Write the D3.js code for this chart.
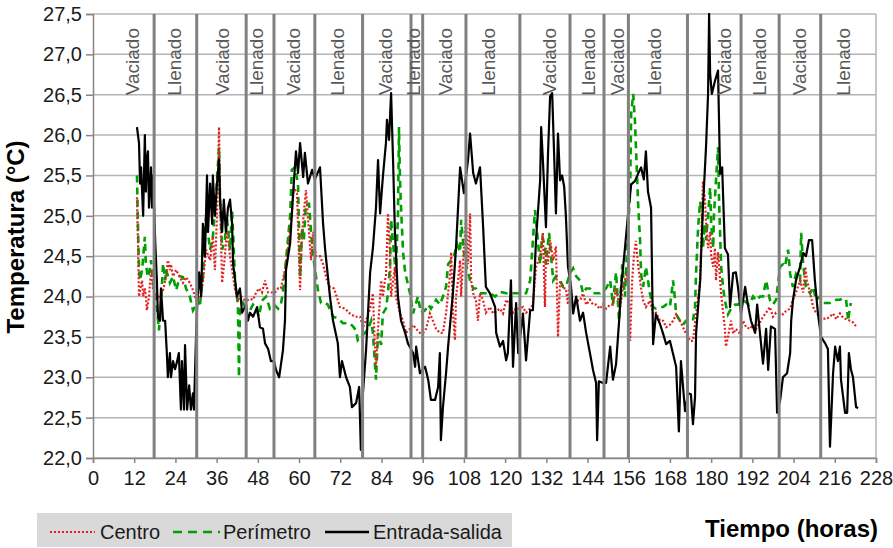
<!DOCTYPE html>
<html><head><meta charset="utf-8">
<script src="https://cdn.jsdelivr.net/npm/d3@7"></script>
<style>body{margin:0;background:#fff;}svg{display:block;font-family:"Liberation Sans",Arial,sans-serif;}</style>
</head><body>
<svg id="chart" width="893" height="548"></svg>
<script>
const xTicks = [0,12,24,36,48,60,72,84,96,108,120,132,144,156,168,180,192,204,216,228];
const yTicks = [22,22.5,23,23.5,24,24.5,25,25.5,26,26.5,27,27.5];
const phaseBounds = [17.8,30.2,44.6,52.7,64.6,78.5,92.6,96.0,108.6,124.3,138.9,148.8,155.9,173.1,188.7,199.8,211.9];
const phaseLabelHours = [11.3,23.6,37.6,47.4,58.3,71.0,85.0,93.3,102.5,115.1,132.9,144.2,152.5,163.3,183.7,194.0,205.6,218.5];
const phaseLabelTexts = ["Vaciado","Llenado","Vaciado","Llenado","Vaciado","Llenado","Vaciado","Llenado","Vaciado","Llenado","Vaciado","Llenado","Vaciado","Llenado","Vaciado","Llenado","Vaciado","Llenado"];
const seriesNames = ["Centro","Perímetro","Entrada-salida"];

const centro = [[12.8,25.23],[13.1,24.66],[13.4,24.0],[13.7,24.08],[14.3,24.2],[14.6,24.0],[15.1,24.1],[15.4,24.0],[15.7,23.83],[16.3,24.0],[16.9,24.33],[17.5,24.08],[18.3,24.0],[19.2,24.0],[20.4,24.08],[21.3,24.25],[21.8,24.45],[22.4,24.33],[22.7,24.4],[23.3,24.25],[24.2,24.33],[25.3,24.24],[26.2,24.17],[27.1,24.24],[28.2,24.17],[29.1,24.08],[30.0,23.96],[31.2,24.0],[32.0,24.17],[32.9,24.58],[34.1,24.45],[34.9,24.74],[35.5,24.33],[36.1,25.0],[36.7,26.1],[37.0,25.2],[37.6,24.17],[38.4,24.5],[39.0,24.83],[39.9,24.5],[40.5,24.33],[41.4,24.08],[42.2,23.96],[43.1,24.0],[44.0,23.96],[44.8,23.95],[45.7,23.97],[46.6,23.96],[47.5,24.05],[48.3,24.1],[49.2,24.05],[50.1,24.2],[51.0,24.05],[52.1,24.05],[53.0,24.05],[53.9,24.1],[54.7,24.1],[55.9,24.33],[56.8,24.6],[57.7,24.95],[58.5,25.35],[59.4,25.28],[60.3,24.08],[60.9,24.8],[62.0,25.32],[62.9,24.8],[63.5,24.45],[64.1,24.8],[64.9,24.5],[66.1,24.5],[67.0,24.4],[68.1,24.2],[69.0,24.12],[70.2,24.1],[71.9,23.87],[73.4,23.85],[74.8,23.79],[76.3,23.75],[77.8,23.75],[78.6,23.62],[79.5,23.7],[80.7,23.85],[81.5,24.04],[82.0,23.46],[82.4,23.13],[83.0,23.6],[83.6,24.0],[83.9,24.2],[84.4,24.0],[85.0,24.2],[85.3,24.25],[85.9,25.03],[86.5,24.5],[86.8,24.0],[87.4,24.2],[87.9,24.37],[88.2,24.0],[88.8,23.9],[89.4,23.79],[90.3,23.7],[91.1,23.55],[92.3,23.6],[93.2,23.65],[94.1,23.6],[95.2,23.55],[96.1,23.55],[97.0,23.6],[98.1,23.79],[99.0,23.7],[99.9,23.6],[101.0,23.55],[101.9,23.55],[102.8,23.79],[103.4,24.04],[104.0,24.29],[104.3,24.55],[104.8,23.8],[105.4,23.46],[105.7,24.0],[106.3,24.2],[106.9,24.45],[107.2,24.0],[107.7,24.4],[108.6,24.95],[109.2,24.4],[109.8,25.03],[110.1,24.2],[110.7,24.04],[111.5,23.95],[112.1,23.7],[112.7,24.04],[113.6,23.95],[114.4,23.8],[115.6,23.87],[116.5,23.79],[118.5,23.85],[119.4,23.79],[120.3,23.96],[121.4,23.9],[122.3,23.8],[123.2,23.85],[124.3,23.85],[125.2,23.87],[126.1,23.8],[127.3,23.85],[128.1,23.9],[129.0,24.37],[130.2,24.5],[131.0,24.79],[131.6,23.87],[131.9,24.6],[132.5,24.4],[133.1,24.7],[134.0,24.45],[134.8,24.62],[135.4,23.5],[136.0,24.2],[136.9,24.1],[137.7,24.1],[138.3,23.9],[138.9,24.2],[139.8,23.83],[140.7,23.95],[141.8,23.95],[142.7,24.04],[143.6,23.9],[144.7,23.96],[145.6,23.9],[146.5,23.9],[147.6,23.85],[148.5,23.9],[149.4,23.85],[150.6,23.9],[151.4,23.9],[152.3,24.1],[153.5,23.85],[154.4,24.15],[154.9,24.2],[155.5,24.3],[156.1,23.9],[156.4,23.45],[157.0,24.2],[157.5,24.5],[158.1,24.69],[158.7,24.4],[159.6,24.1],[160.2,23.95],[161.0,23.87],[162.2,23.95],[163.1,23.78],[163.9,23.8],[165.1,23.7],[166.0,23.7],[166.9,23.62],[168.0,23.65],[168.9,23.7],[169.8,23.78],[170.9,23.7],[171.8,23.62],[172.7,23.54],[173.9,23.45],[174.7,23.45],[175.6,23.78],[176.8,24.2],[177.6,25.43],[178.2,25.2],[178.5,24.93],[179.1,24.6],[179.7,24.8],[180.0,24.5],[180.6,24.37],[181.1,24.6],[181.4,24.2],[182.0,24.55],[182.9,24.03],[183.5,23.8],[184.0,23.6],[184.3,23.38],[184.9,23.5],[185.8,23.7],[186.4,23.54],[187.2,23.6],[188.4,23.54],[189.3,23.7],[190.2,23.62],[191.3,23.6],[192.2,23.65],[193.1,23.6],[194.2,23.68],[195.1,23.75],[196.0,23.8],[197.1,23.87],[198.0,23.75],[198.9,23.8],[200.1,23.8],[200.9,23.78],[201.8,23.82],[203.0,23.85],[203.8,23.96],[204.7,24.05],[205.9,24.2],[206.8,24.05],[207.4,24.37],[207.9,24.2],[208.8,24.05],[209.7,23.87],[210.5,23.8],[211.7,23.75],[212.6,23.73],[213.5,23.72],[214.6,23.75],[215.5,23.79],[216.4,23.72],[217.5,23.79],[218.4,23.74],[219.3,23.72],[220.4,23.7],[221.3,23.68],[222.2,23.63]];

const perimetro = [[12.8,25.5],[13.1,24.86],[13.4,24.33],[13.7,24.2],[14.3,24.33],[15.1,24.74],[15.4,24.4],[16.0,24.24],[16.6,24.35],[16.9,24.45],[17.5,24.17],[18.3,24.0],[19.2,23.58],[19.8,23.9],[20.4,24.41],[21.0,24.2],[21.3,24.33],[22.4,24.17],[23.3,24.25],[24.2,24.08],[25.3,24.25],[26.2,24.24],[27.1,24.1],[28.2,24.0],[29.1,23.83],[30.0,23.9],[31.2,23.92],[32.0,24.24],[32.9,24.98],[34.1,24.58],[34.9,24.74],[35.5,25.07],[36.1,25.44],[36.7,25.85],[37.0,25.2],[37.6,24.58],[38.4,24.7],[39.0,24.98],[39.9,24.58],[40.5,25.07],[41.4,24.17],[41.9,24.0],[42.2,23.9],[42.5,23.0],[42.8,23.83],[43.7,23.92],[44.6,23.85],[45.7,23.83],[46.6,23.9],[47.5,23.85],[48.3,23.75],[49.2,23.95],[50.4,24.0],[51.5,23.85],[52.7,23.9],[53.9,23.85],[54.7,23.9],[55.3,24.05],[56.2,24.45],[57.4,25.0],[57.9,25.57],[58.8,25.6],[59.7,25.4],[60.3,24.24],[60.9,24.86],[61.4,24.7],[62.0,25.15],[62.9,25.15],[63.5,24.8],[64.1,24.5],[65.5,24.08],[66.4,23.92],[67.6,23.92],[68.4,23.9],[69.9,23.75],[71.3,23.73],[72.8,23.67],[74.8,23.67],[75.7,23.63],[76.6,23.58],[77.1,23.46],[78.0,23.5],[79.2,23.55],[80.1,23.6],[81.0,23.7],[81.5,23.55],[82.4,22.97],[83.0,23.55],[83.9,23.4],[84.4,23.79],[85.3,23.85],[85.9,24.04],[86.5,24.4],[86.8,24.95],[87.6,24.55],[88.2,24.29],[88.8,25.0],[89.1,26.1],[89.4,25.44],[89.7,25.1],[90.3,24.54],[90.9,24.3],[92.3,24.04],[93.2,23.79],[94.6,24.0],[95.5,23.8],[96.7,23.83],[97.6,23.9],[98.4,23.85],[99.9,23.96],[101.0,23.9],[101.9,24.0],[102.8,24.12],[103.4,24.4],[104.3,24.45],[105.1,24.5],[106.0,24.65],[106.9,24.55],[107.2,24.95],[108.0,24.55],[108.6,24.4],[109.8,24.2],[110.7,24.1],[111.5,24.1],[112.7,24.04],[114.2,24.04],[115.6,24.04],[117.1,24.0],[118.5,24.06],[120.3,24.04],[122.3,24.04],[124.3,24.04],[126.1,24.04],[127.3,24.2],[128.1,24.7],[128.7,25.07],[129.3,24.8],[130.2,24.4],[130.8,24.75],[131.6,24.62],[131.9,24.4],[132.8,24.79],[133.4,24.5],[134.0,24.2],[134.8,24.25],[136.0,24.2],[136.9,24.12],[137.7,24.12],[138.9,24.29],[139.8,24.35],[140.7,24.25],[141.8,24.2],[142.7,24.04],[143.6,24.1],[144.7,24.1],[145.6,24.04],[147.6,24.04],[149.4,24.1],[150.6,24.2],[151.4,23.9],[152.3,24.3],[153.2,23.7],[154.1,24.4],[154.9,24.0],[155.5,24.6],[156.4,25.3],[156.7,26.26],[157.3,26.51],[157.8,26.18],[158.1,25.85],[158.7,25.18],[159.3,24.69],[159.6,24.28],[160.2,24.12],[161.0,24.37],[162.2,24.03],[163.1,23.87],[163.9,23.85],[165.1,23.87],[166.0,23.87],[166.9,23.9],[168.0,23.87],[168.9,24.2],[169.5,23.95],[169.8,23.78],[170.9,23.7],[171.8,23.65],[172.7,23.7],[173.9,23.7],[174.7,23.7],[175.3,23.87],[175.6,24.28],[176.2,24.86],[176.8,25.18],[177.4,25.0],[177.6,24.6],[178.2,24.9],[178.5,24.7],[179.1,25.0],[179.7,25.35],[180.0,24.9],[180.6,24.6],[180.8,25.0],[181.4,25.43],[182.0,25.85],[182.3,25.2],[182.9,24.37],[183.5,24.1],[184.0,23.95],[184.9,23.78],[185.8,23.85],[187.0,23.9],[187.8,23.9],[189.3,23.96],[191.0,23.9],[192.2,24.0],[193.1,23.95],[194.2,24.0],[195.1,24.0],[196.0,24.2],[197.1,23.96],[198.0,23.9],[198.9,23.96],[200.1,24.37],[200.9,24.4],[201.5,24.37],[202.4,24.58],[203.0,24.28],[203.8,24.12],[204.7,24.28],[205.9,24.2],[206.2,24.79],[206.8,24.4],[207.6,24.12],[208.8,24.04],[209.7,24.12],[210.5,23.96],[211.7,24.0],[212.6,23.92],[214.6,23.92],[216.4,23.96],[217.5,23.96],[218.4,23.98],[219.3,23.96],[219.9,23.7],[220.4,23.87],[220.7,23.92]];

const entradaSalida = [[12.8,26.1],[13.4,25.9],[13.7,25.4],[14.0,25.6],[14.6,25.0],[15.1,26.0],[15.4,25.3],[15.7,25.7],[16.0,25.8],[16.3,25.1],[16.9,25.6],[17.2,25.1],[17.5,25.5],[18.1,24.7],[18.6,24.2],[18.9,23.75],[19.5,23.7],[19.8,24.1],[20.4,23.7],[21.0,23.7],[21.5,23.3],[21.8,23.0],[22.4,23.3],[22.7,23.0],[23.3,23.2],[23.9,23.1],[24.5,23.2],[25.0,23.3],[25.6,22.6],[25.9,23.2],[26.5,22.6],[26.8,23.4],[27.4,22.6],[28.0,22.9],[28.5,22.6],[29.1,22.8],[29.4,22.6],[30.0,23.5],[30.3,23.85],[30.9,24.3],[31.5,24.0],[32.0,24.9],[32.6,24.5],[33.2,25.5],[33.5,24.8],[34.1,25.4],[34.7,24.9],[34.9,25.5],[35.5,25.0],[36.1,25.4],[36.7,25.7],[37.0,25.2],[37.6,24.8],[38.1,25.2],[38.7,24.8],[39.3,25.1],[39.9,25.2],[40.5,24.9],[40.8,24.4],[41.4,24.2],[41.9,24.0],[42.8,24.1],[43.4,23.8],[44.0,23.85],[44.6,23.9],[45.1,23.7],[45.7,23.8],[46.6,23.75],[47.8,23.87],[48.6,23.62],[49.5,23.6],[50.1,23.42],[51.0,23.35],[51.8,23.2],[52.7,23.2],[53.3,23.09],[54.2,23.0],[55.3,23.33],[55.9,23.7],[56.2,24.33],[57.4,24.66],[58.2,25.23],[59.1,25.8],[59.7,25.53],[60.3,25.9],[61.2,25.48],[61.7,25.78],[62.6,25.4],[63.8,25.57],[64.6,25.45],[66.1,25.6],[67.0,24.9],[67.6,24.58],[69.0,24.0],[69.9,23.7],[71.3,23.42],[71.9,23.0],[72.5,23.2],[73.7,23.0],[74.8,22.88],[75.4,22.63],[76.6,22.68],[77.5,22.88],[78.0,22.1],[78.6,22.8],[79.5,23.33],[80.7,24.3],[81.5,24.6],[82.4,25.1],[83.0,25.69],[83.6,25.03],[84.4,25.48],[85.3,25.9],[85.6,26.19],[86.2,25.94],[86.8,26.52],[87.4,25.65],[87.9,24.82],[88.8,24.0],[89.7,23.7],[90.9,23.55],[91.7,23.42],[93.2,23.3],[93.8,23.13],[94.1,23.38],[95.2,23.05],[96.7,23.13],[97.6,22.97],[98.4,22.72],[99.6,22.72],[100.5,22.88],[101.0,23.3],[101.3,22.22],[101.9,22.63],[102.8,23.05],[103.4,23.38],[104.8,24.04],[105.7,24.6],[106.9,25.6],[108.0,25.28],[109.2,25.69],[109.8,26.02],[110.7,25.53],[111.5,25.4],[112.7,25.6],[113.6,24.86],[114.4,24.12],[115.6,24.04],[117.1,23.87],[117.4,23.55],[118.5,23.38],[119.4,23.45],[120.3,23.21],[120.8,23.3],[121.7,24.2],[122.3,23.13],[123.2,23.92],[123.8,23.3],[125.2,23.79],[126.1,23.21],[127.3,23.83],[128.1,23.83],[129.0,24.7],[130.2,25.44],[130.5,26.1],[131.0,25.69],[131.9,24.86],[132.5,25.78],[133.1,26.48],[133.7,26.52],[134.2,25.86],[134.8,25.03],[135.4,26.02],[136.0,25.44],[136.6,25.5],[137.2,25.36],[137.7,25.0],[138.3,24.37],[139.2,24.12],[139.8,23.79],[140.7,24.0],[141.8,23.7],[142.7,23.8],[143.6,23.55],[144.7,23.3],[145.6,23.09],[146.5,22.93],[146.8,22.22],[147.3,22.95],[148.5,22.93],[149.4,22.93],[150.6,23.38],[151.4,22.97],[152.3,23.16],[153.2,23.7],[153.8,24.12],[154.9,24.6],[155.8,25.02],[156.7,25.39],[157.8,25.43],[158.7,25.52],[159.6,25.6],[160.4,25.45],[161.0,25.8],[161.6,25.3],[162.5,25.1],[163.1,23.41],[163.9,23.78],[165.1,23.66],[166.0,23.54],[166.9,23.41],[168.0,23.45],[168.9,23.29],[169.8,23.13],[170.6,22.33],[171.2,23.2],[172.4,22.58],[173.3,22.8],[174.1,22.79],[174.7,22.42],[175.3,22.75],[175.6,23.54],[176.8,24.2],[177.6,25.1],[178.5,25.85],[179.1,26.51],[179.4,27.5],[179.7,26.76],[180.2,26.51],[181.1,26.67],[182.0,26.8],[182.6,25.52],[183.2,25.6],[184.0,24.6],[184.9,24.52],[185.5,23.87],[186.4,24.29],[187.2,24.3],[187.8,24.12],[188.7,23.79],[189.9,24.12],[190.7,23.9],[191.6,23.7],[192.8,23.55],[193.4,23.9],[194.2,23.55],[195.1,23.17],[196.0,23.6],[196.6,23.09],[197.4,23.63],[198.6,23.6],[199.2,22.56],[200.1,22.72],[200.9,23.0],[202.1,23.05],[203.0,23.3],[203.3,23.7],[203.8,23.95],[204.7,24.2],[205.9,24.37],[206.8,24.54],[207.6,24.5],[208.5,24.7],[209.4,24.7],[210.2,24.2],[211.1,23.79],[212.0,23.5],[213.2,23.42],[214.0,23.35],[214.6,22.14],[215.5,23.05],[216.1,23.38],[216.9,23.2],[217.5,23.38],[217.8,22.97],[219.0,22.56],[219.6,22.56],[220.1,23.3],[220.7,23.1],[221.3,23.0],[222.2,22.63],[222.8,22.62]];

const svg = d3.select("#chart");
const L = 93, R = 876, T = 14, B = 458;
const x = d3.scaleLinear().domain([0, 228]).range([L, R]);
const y = d3.scaleLinear().domain([22, 27.5]).range([B, T]);
const fmt = v => d3.format(".1f")(v).replace(".", ",");

// horizontal grid
svg.append("g").selectAll("line").data(yTicks).join("line")
  .attr("x1", L).attr("x2", R).attr("y1", d => y(d)).attr("y2", d => y(d))
  .attr("stroke", "#b4b4b4").attr("stroke-width", 1.5);
// right border
svg.append("line").attr("x1", R).attr("x2", R).attr("y1", T).attr("y2", B)
  .attr("stroke", "#b4b4b4").attr("stroke-width", 1.5);

// axes
const yAxis = d3.axisLeft(y).tickValues(yTicks).tickFormat(fmt).tickSize(7).tickPadding(4);
const gy = svg.append("g").attr("transform", `translate(${L},0)`).call(yAxis);
gy.select(".domain").attr("stroke", "#868686").attr("stroke-width", 1.5);
gy.selectAll(".tick line").attr("stroke", "#868686").attr("stroke-width", 1.5);
gy.selectAll(".tick text").attr("font-size", 20).attr("fill", "#1a1a1a").attr("font-family", "Liberation Sans, Arial, sans-serif");

const xAxis = d3.axisBottom(x).tickValues(xTicks).tickFormat(d3.format("d")).tickSize(5).tickPadding(8);
const gx = svg.append("g").attr("transform", `translate(0,${B})`).call(xAxis);
gx.select(".domain").attr("stroke", "#868686").attr("stroke-width", 1.5);
gx.selectAll(".tick line").attr("stroke", "#868686").attr("stroke-width", 1.5);
gx.selectAll(".tick text").attr("font-size", 20).attr("fill", "#1a1a1a").attr("font-family", "Liberation Sans, Arial, sans-serif");

// clip
svg.append("defs").append("clipPath").attr("id", "clip")
  .append("rect").attr("x", L).attr("y", T - 1).attr("width", R - L).attr("height", B - T + 1);

const line = d3.line().x(d => x(d[0])).y(d => y(d[1]));
const plot = svg.append("g").attr("clip-path", "url(#clip)");
plot.append("path").datum(perimetro).attr("d", line).attr("fill", "none")
  .attr("stroke", "#00a000").attr("stroke-width", 2.6).attr("stroke-dasharray", "7,5");
plot.append("path").datum(centro).attr("d", line).attr("fill", "none")
  .attr("stroke", "#e02020").attr("stroke-width", 2.2).attr("stroke-dasharray", "2,2");
plot.append("path").datum(entradaSalida).attr("d", line).attr("fill", "none")
  .attr("stroke", "#000").attr("stroke-width", 2.2).attr("stroke-linejoin", "round");

// phase boundary lines
svg.append("g").selectAll("line").data(phaseBounds).join("line")
  .attr("x1", d => x(d)).attr("x2", d => x(d)).attr("y1", T).attr("y2", B)
  .attr("stroke", "#808080").attr("stroke-width", 3);

// phase labels
svg.append("g").selectAll("text").data(phaseLabelHours).join("text")
  .attr("transform", d => `translate(${x(d)},28) rotate(-90)`)
  .attr("text-anchor", "end").attr("dy", "0.36em")
  .attr("font-size", 19).attr("fill", "#595959")
  .text((d, i) => phaseLabelTexts[i]);

// axis titles
svg.append("text").attr("transform", "translate(24,237) rotate(-90)")
  .attr("text-anchor", "middle").attr("font-size", 24).attr("font-weight", "bold").attr("fill", "#000")
  .text("Temperatura (°C)");
svg.append("text").attr("x", 878).attr("y", 537).attr("text-anchor", "end")
  .attr("font-size", 24).attr("font-weight", "bold").attr("fill", "#000")
  .text("Tiempo (horas)");

// legend
const lg = svg.append("g");
lg.append("rect").attr("x", 37).attr("y", 513).attr("width", 475).attr("height", 34).attr("fill", "#d9d9d9");
const legendItems = [
  {name: seriesNames[0], color: "#e02020", dash: "2,2", w: 2.2, x0: 50, x1: 95, tx: 100},
  {name: seriesNames[1], color: "#00a000", dash: "9,6", w: 2.6, x0: 173, x1: 220, tx: 223},
  {name: seriesNames[2], color: "#000", dash: null, w: 2.6, x0: 325, x1: 369, tx: 373}
];
legendItems.forEach(it => {
  lg.append("line").attr("x1", it.x0).attr("x2", it.x1).attr("y1", 532).attr("y2", 532)
    .attr("stroke", it.color).attr("stroke-width", it.w).attr("stroke-dasharray", it.dash);
  lg.append("text").attr("x", it.tx).attr("y", 539).attr("font-size", 20).attr("fill", "#1a1a1a").text(it.name);
});
</script>
</body></html>
